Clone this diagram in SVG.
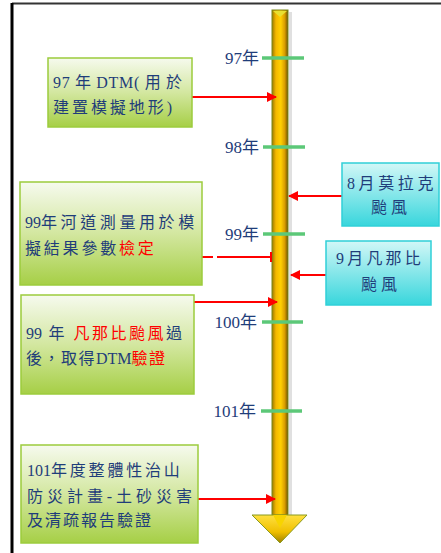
<svg xmlns="http://www.w3.org/2000/svg" width="441" height="553" viewBox="0 0 441 553">
<defs>
<style>
.yr{font-family:"Liberation Serif","Noto Sans CJK TC",serif;font-size:17px;fill:#1f3d7a;text-anchor:end}
.bt{font-family:"Liberation Serif","Noto Sans CJK TC",serif;font-size:16px;fill:#1f3d7a}
.rd{fill:#ff0000}
.gbox{fill:url(#gGreen);stroke:#9ccc3c;stroke-width:1.5}
.cbox{fill:url(#gCyan);stroke:#30d0d8;stroke-width:1.5}
.tick{stroke:#5cc878;stroke-width:3.5}
.arr{stroke:#ff0000;stroke-width:2;fill:none}
</style>
<linearGradient id="gGreen" x1="0" y1="0" x2="0" y2="1">
<stop offset="0" stop-color="#f6faee"/>
<stop offset="0.5" stop-color="#d3e7a0"/>
<stop offset="1" stop-color="#a6cf46"/>
</linearGradient>
<linearGradient id="gCyan" x1="0" y1="0" x2="0" y2="1">
<stop offset="0" stop-color="#d2f7f7"/>
<stop offset="1" stop-color="#38d6dc"/>
</linearGradient>
<linearGradient id="gShaft" x1="0" y1="0" x2="1" y2="0">
<stop offset="0" stop-color="#9a7800"/>
<stop offset="0.25" stop-color="#f4b800"/>
<stop offset="0.55" stop-color="#ffd000"/>
<stop offset="0.8" stop-color="#d89c00"/>
<stop offset="1" stop-color="#6a5000"/>
</linearGradient>
<linearGradient id="gHead" x1="0" y1="0" x2="0" y2="1">
<stop offset="0" stop-color="#ffe040"/>
<stop offset="0.6" stop-color="#f0c000"/>
<stop offset="1" stop-color="#a08000"/>
</linearGradient>
<marker id="ah" viewBox="0 0 10 10" refX="9" refY="5" markerWidth="5" markerHeight="5" orient="auto" markerUnits="strokeWidth">
<path d="M0,0 L10,5 L0,10 z" fill="#ff0000"/>
</marker>
</defs>
<rect width="441" height="553" fill="#ffffff"/>
<g id="frame">
<line x1="12" y1="3.5" x2="441" y2="3.5" stroke="#333" stroke-width="2"/>
<line x1="12" y1="3" x2="12" y2="553" stroke="#000" stroke-width="3"/>
</g>
<g id="timeline">
<rect x="289" y="12" width="3" height="503" fill="#e0e0e0"/>
<rect x="272" y="10" width="16" height="505" fill="url(#gShaft)" stroke="#7a8a1a" stroke-width="1"/>
<polygon points="273,11 287,11 280,17" fill="#e8e030"/>
<polygon points="252,515 307,515 280,543" fill="url(#gHead)" stroke="#8a9a20" stroke-width="1"/>
<polygon points="273,515 287,515 280,528" fill="#f8d400"/>
</g>
<g id="ticks">
<line class="tick" x1="262" y1="58" x2="304" y2="58"/>
<line class="tick" x1="263" y1="147" x2="305" y2="147"/>
<line class="tick" x1="263" y1="234" x2="305" y2="234"/>
<line class="tick" x1="262" y1="322" x2="303" y2="322"/>
<line class="tick" x1="261" y1="411" x2="302" y2="411"/>
<text class="yr" x="259" y="64">97年</text>
<text class="yr" x="259" y="153">98年</text>
<text class="yr" x="259" y="240">99年</text>
<text class="yr" x="257" y="328">100年</text>
<text class="yr" x="256" y="417">101年</text>
</g>
<g id="connectors">
<line class="arr" x1="192" y1="97" x2="276" y2="97" marker-end="url(#ah)"/>
<line class="arr" x1="202" y1="257" x2="213" y2="257"/>
<line class="arr" x1="217" y1="257" x2="272" y2="257"/>
<line class="arr" x1="271" y1="252" x2="271" y2="262"/>
<line class="arr" x1="342" y1="196" x2="289" y2="196" marker-end="url(#ah)"/>
<line class="arr" x1="326" y1="275" x2="291" y2="275" marker-end="url(#ah)"/>
<line class="arr" x1="194" y1="302" x2="277" y2="302" marker-end="url(#ah)"/>
<line class="arr" x1="198" y1="499" x2="275" y2="499" marker-end="url(#ah)"/>
</g>
<g id="n97">
<rect class="gbox" x="48" y="58" width="144" height="69"/>
<text class="bt" x="53" y="88" textLength="129" lengthAdjust="spacing">97 年 DTM( 用 於</text>
<text class="bt" x="53" y="113" textLength="119" lengthAdjust="spacing">建置模擬地形)</text>
</g>
<g id="n99a">
<rect class="gbox" x="20" y="182" width="182" height="103"/>
<text class="bt" x="25" y="228" letter-spacing="3.6"><tspan letter-spacing="0">99</tspan>年河道測量用於模</text>
<text class="bt" x="25" y="254" letter-spacing="2.8">擬結果參數<tspan class="rd">檢定</tspan></text>
</g>
<g id="nMorakot">
<rect class="cbox" x="342" y="163" width="97" height="63"/>
<text class="bt" x="347" y="189" letter-spacing="3.6">8月莫拉克</text>
<text class="bt" x="371" y="213" letter-spacing="4">颱風</text>
</g>
<g id="nFanapi">
<rect class="cbox" x="326" y="241" width="105" height="64"/>
<text class="bt" x="336" y="264" letter-spacing="3.2">9月凡那比</text>
<text class="bt" x="361" y="290" letter-spacing="4">颱風</text>
</g>
<g id="n99b">
<rect class="gbox" x="21" y="295" width="173" height="99"/>
<text class="bt" x="26" y="339" letter-spacing="2.5"><tspan letter-spacing="0">99</tspan> 年 <tspan class="rd">凡那比颱風</tspan>過</text>
<text class="bt" x="26" y="364" letter-spacing="1.5">後，取得<tspan letter-spacing="0">DTM</tspan><tspan class="rd">驗證</tspan></text>
</g>
<g id="n101">
<rect class="gbox" x="21" y="445" width="177" height="98"/>
<text class="bt" x="27" y="476" letter-spacing="2.8"><tspan letter-spacing="0">101</tspan>年度整體性治山</text>
<text class="bt" x="27" y="502" textLength="165" lengthAdjust="spacing">防災計畫-土砂災害</text>
<text class="bt" x="27" y="526" letter-spacing="2">及清疏報告驗證</text>
</g>
</svg>
